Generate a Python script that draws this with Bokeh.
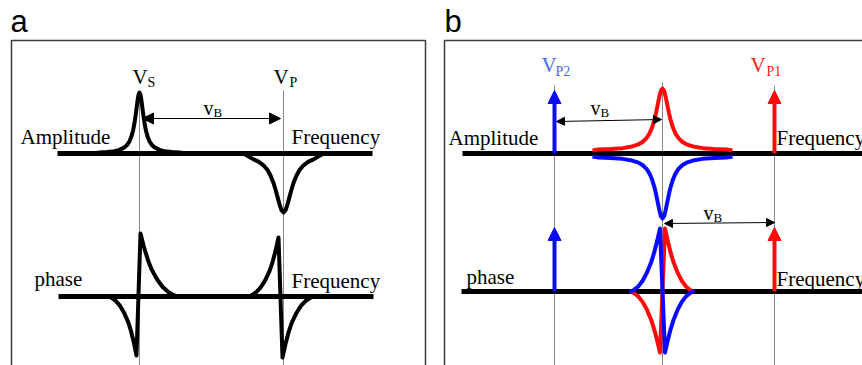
import numpy as np
from bokeh.plotting import figure
from bokeh.models import Range1d, Arrow, NormalHead
from bokeh.core.properties import value
from bokeh.embed import file_html
from bokeh.resources import INLINE

W, H = 862, 365

# ---------------- data (schematic units = picture pixels, y grows downward) ----------------
# Lorentzian line-shape table: offset in half-widths -> normalised height
LS_U = [0, 0.2, 0.4, 0.6, 0.8, 1.0, 1.3, 1.6, 2.0, 2.5, 3.0, 4.0, 5.0, 6.5, 8.0, 10.0]
LS_H = [1.0, 0.962, 0.862, 0.735, 0.610, 0.5, 0.372, 0.281, 0.2, 0.138, 0.1, 0.059, 0.038, 0.023, 0.015, 0.0099]

# phase-lobe table: fraction of lobe extent -> normalised height
PH_U = [0, 0.1, 0.2, 0.3, 0.45, 0.6, 0.75, 0.9, 1.0]
PHA_H = [1, 0.77, 0.58, 0.43, 0.27, 0.15, 0.07, 0.02, 0]
PHB_H = [1, 0.80, 0.62, 0.47, 0.30, 0.17, 0.08, 0.025, 0]

# panel a : Stokes (nu_S) and pump (nu_P) frequencies
A_FREQ = [139, 283]
A_AMP_H = [61, -59]          # gain peak / loss dip
A_AMP_W = [5, 10]            # half widths
A_AMP_EXT = [46, 40]         # tail extent
A_PH_C = [138, 280]
A_PH_LEFT_H = [-59, 59]
A_PH_RIGHT_H = [63, -61]
A_PH_LEFT_EXT = [28, 30]
A_PH_RIGHT_EXT = [37, 31]

# panel b : two pumps (nu_P2 blue, nu_P1 red) and the probe at the centre
B_PUMP_FREQ = [554, 774]
B_PUMP_COL = ["#0a0aff", "#ff0a0a"]
B_CENTER = 662
B_AMP_H = [62, -62]          # red gain, blue loss
B_AMP_BASE_OFF = [-3, 3]
B_AMP_W = 8
B_AMP_EXT = 70
B_PH_LEFT_H = [-61, 63]      # red, blue
B_PH_RIGHT_H = [63, -61]
B_PH_EXT = [29, 28]
B_COL = ["#ff0a0a", "#0a0aff"]

AXIS_Y_A = [153, 296]
AXIS_Y_B = [153, 291]

# ---------------- helpers ----------------
def peak_xy(center, height, width, extent, base):
    u = np.array(LS_U) * width
    h = np.array(LS_H)
    keep = u < extent
    dx = np.concatenate([u[keep], [extent]])
    hh = np.concatenate([h[keep], [0.0]])
    xs = np.concatenate([center - dx[::-1], center + dx[1:]])
    ys = base - height * np.concatenate([hh[::-1], hh[1:]])
    return xs, ys


def phase_xy(center, off, lh, lext, rh, rext, base, table):
    u = np.array(PH_U)
    h = np.array(table)
    xl = center - off - u * lext
    yl = base - lh * h
    xr = center + off + u * rext
    yr = base - rh * h
    return np.concatenate([xl[::-1], xr]), np.concatenate([yl[::-1], yr])


p = figure(width=W, height=H, x_range=Range1d(0, W), y_range=Range1d(H, 0),
           x_axis_type=None, y_axis_type=None, output_backend="svg",
           toolbar_location=None, min_border=0)
p.grid.visible = False
p.outline_line_color = None
p.background_fill_color = "white"
p.border_fill_color = "white"

SERIF = value("Liberation Serif")
SANS = value("Liberation Sans")


def txt(x, y, s, size, color="black", font=SERIF):
    # y is the alphabetic baseline in picture pixels; small correction for renderer offset
    p.text(x=[x], y=[y - 0.3 * size], text=[s], text_font=font, text_font_size=value(f"{size}px"),
           text_baseline="alphabetic", text_align="left", text_color=color)


# panel frames
p.line([11, 11, 425, 425], [380, 40, 40, 380], line_color="#3c3c3c", line_width=1.5)
p.line([444, 444, 880], [380, 40, 40], line_color="#3c3c3c", line_width=1.5)

# thin frequency markers
p.segment(x0=[139, 283, 554, 662, 774], y0=[92, 90, 85, 82, 85],
          x1=[139, 283, 554, 662, 774], y1=[380] * 5, line_color="#8a8a8a", line_width=1)

# baselines (black thick)
p.segment(x0=[57, 58], y0=AXIS_Y_A, x1=[372, 373], y1=AXIS_Y_A, line_color="black", line_width=5)
p.segment(x0=[462, 461], y0=AXIS_Y_B, x1=[880, 880], y1=AXIS_Y_B, line_color="black", line_width=5)

# ---------------- panel a curves ----------------
for i in range(2):
    xs, ys = peak_xy(A_FREQ[i], A_AMP_H[i], A_AMP_W[i], A_AMP_EXT[i], AXIS_Y_A[0])
    p.line(xs, ys, line_color="black", line_width=4, line_join="round", line_cap="round")
    xs, ys = phase_xy(A_PH_C[i], 2, A_PH_LEFT_H[i], A_PH_LEFT_EXT[i],
                      A_PH_RIGHT_H[i], A_PH_RIGHT_EXT[i], AXIS_Y_A[1], PHA_H)
    p.line(xs, ys, line_color="black", line_width=4, line_join="round", line_cap="round")

# ---------------- panel b curves ----------------
for i in range(2):
    xs, ys = peak_xy(B_CENTER, B_AMP_H[i], B_AMP_W, B_AMP_EXT, AXIS_Y_B[0] + B_AMP_BASE_OFF[i])
    p.line(xs, ys, line_color=B_COL[i], line_width=4, line_join="round", line_cap="butt")
for i in range(2):
    xs, ys = phase_xy(B_CENTER, 2.5, B_PH_LEFT_H[i], B_PH_EXT[0],
                      B_PH_RIGHT_H[i], B_PH_EXT[1], AXIS_Y_B[1], PHB_H)
    p.line(xs, ys, line_color=B_COL[i], line_width=4, line_join="round", line_cap="round")

# pump arrows in panel b
for i in range(2):
    for base, tip in [(AXIS_Y_B[0], 90), (AXIS_Y_B[1], 227)]:
        p.add_layout(Arrow(end=NormalHead(size=13, fill_color=B_PUMP_COL[i],
                                          line_color=B_PUMP_COL[i], line_width=1),
                           x_start=B_PUMP_FREQ[i], y_start=base, x_end=B_PUMP_FREQ[i], y_end=tip,
                           line_color=B_PUMP_COL[i], line_width=4))

# nu_B double arrows
def dbl_arrow(x0, y0, x1, y1, size):
    p.add_layout(Arrow(start=NormalHead(size=size, fill_color="black", line_color="black"),
                       end=NormalHead(size=size, fill_color="black", line_color="black"),
                       x_start=x0, y_start=y0, x_end=x1, y_end=y1,
                       line_color="black", line_width=1))

dbl_arrow(142, 118, 280, 118, 11)
dbl_arrow(556, 121, 661, 119, 8)
dbl_arrow(664, 223, 774, 222, 8)

# ---------------- texts ----------------
txt(10, 30, "a", 31, font=SANS)
txt(444, 30, "b", 31, font=SANS)

for (x, y) in [(20, 143), (448, 144)]:
    txt(x, y, "Amplitude", 21)
for (x, y) in [(291, 143), (291, 287), (776, 144), (776, 285)]:
    txt(x, y, "Frequency", 21)
txt(34, 285, "phase", 21)
txt(466, 283, "phase", 21)

txt(132, 83, "V", 21)
txt(147, 86, "S", 14)
txt(273, 83, "V", 21)
txt(289, 86, "P", 14)
txt(541, 71, "V", 21, color="#3f6af5")
txt(555, 75, "P2", 14, color="#3f6af5")
txt(750, 71, "V", 21, color="#ff1a1a")
txt(766, 75, "P1", 14, color="#ff1a1a")

for (x, y) in [(203, 113), (590, 113), (703, 218)]:
    txt(x, y, "v", 20)
    txt(x + 10, y + 3, "B", 13)

open("out.html", "w").write(file_html(p, INLINE))
